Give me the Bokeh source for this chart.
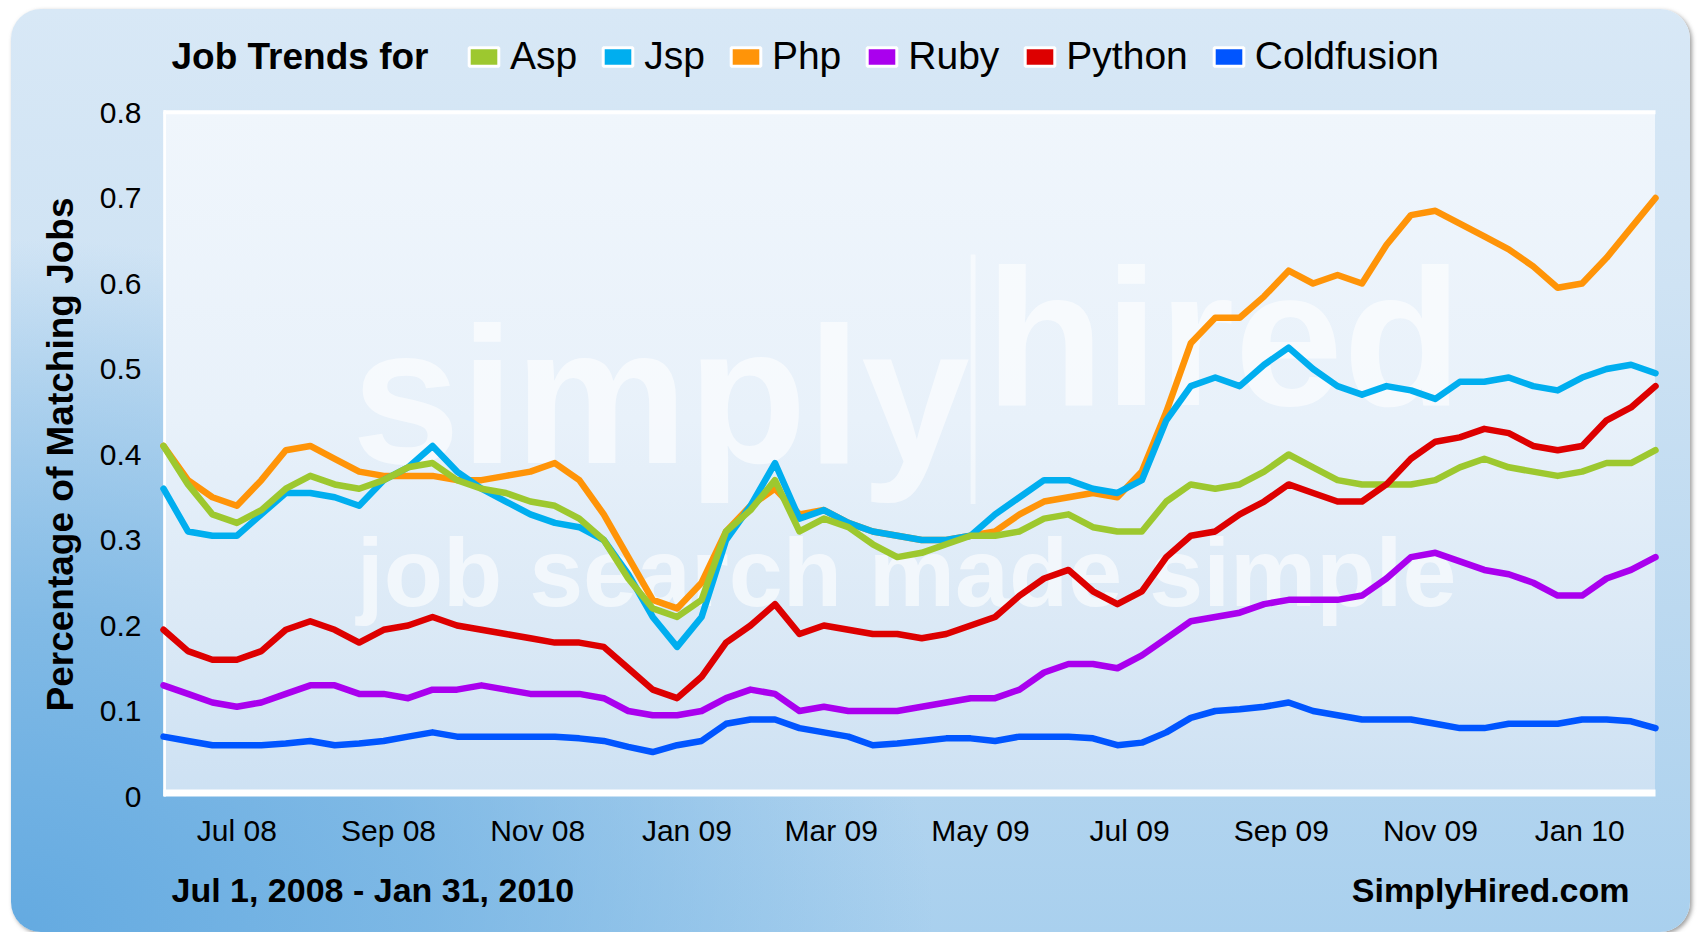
import pandas as pd
from bokeh.plotting import figure
from bokeh.models import (ColumnDataSource, Range1d, FixedTicker, DatetimeTickFormatter,
                          Legend, LegendItem, Label, BoxAnnotation)
from bokeh.embed import file_html
from bokeh.resources import INLINE

# ---------------- data ----------------
dates = pd.date_range("2008-06-01", periods=62, freq="10D")

asp = [0.41, 0.365, 0.33, 0.32, 0.335, 0.36, 0.375, 0.365, 0.36, 0.37,
       0.385, 0.39, 0.37, 0.36, 0.355, 0.345, 0.34, 0.325, 0.30, 0.255,
       0.22, 0.21, 0.23, 0.31, 0.335, 0.37, 0.31, 0.325, 0.315, 0.295,
       0.28, 0.285, 0.295, 0.305, 0.305, 0.31, 0.325, 0.33, 0.315, 0.31,
       0.31, 0.345, 0.365, 0.36, 0.365, 0.38, 0.40, 0.385, 0.37, 0.365,
       0.365, 0.365, 0.37, 0.385, 0.395, 0.385, 0.38, 0.375, 0.38, 0.39,
       0.39, 0.405]
jsp = [0.36, 0.31, 0.305, 0.305, 0.33, 0.355, 0.355, 0.35, 0.34, 0.37,
       0.385, 0.41, 0.38, 0.36, 0.345, 0.33, 0.32, 0.315, 0.30, 0.26,
       0.21, 0.175, 0.21, 0.30, 0.34, 0.39, 0.325, 0.335, 0.32, 0.31,
       0.305, 0.30, 0.30, 0.305, 0.33, 0.35, 0.37, 0.37, 0.36, 0.355,
       0.37, 0.44, 0.48, 0.49, 0.48, 0.505, 0.525, 0.50, 0.48, 0.47,
       0.48, 0.475, 0.465, 0.485, 0.485, 0.49, 0.48, 0.475, 0.49, 0.50,
       0.505, 0.495]
php = [0.41, 0.37, 0.35, 0.34, 0.37, 0.405, 0.41, 0.395, 0.38, 0.375,
       0.375, 0.375, 0.37, 0.37, 0.375, 0.38, 0.39, 0.37, 0.33, 0.28,
       0.23, 0.22, 0.25, 0.31, 0.34, 0.36, 0.33, 0.335, 0.32, 0.31,
       0.305, 0.30, 0.30, 0.305, 0.31, 0.33, 0.345, 0.35, 0.355, 0.35,
       0.38, 0.45, 0.53, 0.56, 0.56, 0.585, 0.615, 0.60, 0.61, 0.60,
       0.645, 0.68, 0.685, 0.67, 0.655, 0.64, 0.62, 0.595, 0.60, 0.63,
       0.665, 0.70]
ruby = [0.13, 0.12, 0.11, 0.105, 0.11, 0.12, 0.13, 0.13, 0.12, 0.12,
        0.115, 0.125, 0.125, 0.13, 0.125, 0.12, 0.12, 0.12, 0.115, 0.10,
        0.095, 0.095, 0.10, 0.115, 0.125, 0.12, 0.10, 0.105, 0.10, 0.10,
        0.10, 0.105, 0.11, 0.115, 0.115, 0.125, 0.145, 0.155, 0.155, 0.15,
        0.165, 0.185, 0.205, 0.21, 0.215, 0.225, 0.23, 0.23, 0.23, 0.235,
        0.255, 0.28, 0.285, 0.275, 0.265, 0.26, 0.25, 0.235, 0.235, 0.255,
        0.265, 0.28]
python = [0.195, 0.17, 0.16, 0.16, 0.17, 0.195, 0.205, 0.195, 0.18, 0.195,
          0.20, 0.21, 0.20, 0.195, 0.19, 0.185, 0.18, 0.18, 0.175, 0.15,
          0.125, 0.115, 0.14, 0.18, 0.20, 0.225, 0.19, 0.20, 0.195, 0.19,
          0.19, 0.185, 0.19, 0.20, 0.21, 0.235, 0.255, 0.265, 0.24, 0.225,
          0.24, 0.28, 0.305, 0.31, 0.33, 0.345, 0.365, 0.355, 0.345, 0.345,
          0.365, 0.395, 0.415, 0.42, 0.43, 0.425, 0.41, 0.405, 0.41, 0.44,
          0.455, 0.48]
coldfusion = [0.07, 0.065, 0.06, 0.06, 0.06, 0.062, 0.065, 0.06, 0.062, 0.065,
              0.07, 0.075, 0.07, 0.07, 0.07, 0.07, 0.07, 0.068, 0.065, 0.058,
              0.052, 0.06, 0.065, 0.085, 0.09, 0.09, 0.08, 0.075, 0.07, 0.06,
              0.062, 0.065, 0.068, 0.068, 0.065, 0.07, 0.07, 0.07, 0.068, 0.06,
              0.063, 0.075, 0.092, 0.10, 0.102, 0.105, 0.11, 0.10, 0.095, 0.09,
              0.09, 0.09, 0.085, 0.08, 0.08, 0.085, 0.085, 0.085, 0.09, 0.09,
              0.088, 0.08]

series_names = ["Asp", "Jsp", "Php", "Ruby", "Python", "Coldfusion"]
series_colors = ["#9DC82F", "#00AEEF", "#FF9408", "#AA00EE", "#DD0000", "#0055FF"]
draw_order = ["Php", "Jsp", "Asp", "Ruby", "Python", "Coldfusion"]

x_tick_dates = ["2008-07-01", "2008-09-01", "2008-11-01", "2009-01-01", "2009-03-01",
                "2009-05-01", "2009-07-01", "2009-09-01", "2009-11-01", "2010-01-01"]
y_ticks = [0, 0.1, 0.2, 0.3, 0.4, 0.5, 0.6, 0.7, 0.8]
y_tick_labels = ["0", "0.1", "0.2", "0.3", "0.4", "0.5", "0.6", "0.7", "0.8"]

title_text = "Job Trends for"
range_text = "Jul 1, 2008 - Jan 31, 2010"
brand_text = "SimplyHired.com"
y_label = "Percentage of Matching Jobs"
x_start, x_end = "2008-06-01", "2010-02-01"
y_start, y_end = 0.0, 0.8

# ---------------- layout (page pixels) ----------------
FONT = "Liberation Sans"
OX, OY = 11, 9                 # panel offset on the page
W, H = 1679, 923               # panel size
PL, PR, PT, PB = 163, 1655, 112, 796   # plot area on the page


def ms(d):
    return pd.Timestamp(d).timestamp() * 1000.0


# the whole panel is the frame; extend ranges so the plot area lands at PL..PR / PT..PB
xs = (ms(x_end) - ms(x_start)) / (PR - PL)
ys = (y_end - y_start) / (PB - PT)
x_lo = ms(x_start) - (PL - OX) * xs
x_hi = ms(x_end) + (OX + W - PR) * xs
y_lo = y_start - (OY + H - PB) * ys
y_hi = y_end + (PT - OY) * ys


def sx(page_x):
    return page_x - OX


def sy(page_y):
    return OY + H - page_y


src = ColumnDataSource(dict(date=dates, Asp=asp, Jsp=jsp, Php=php, Ruby=ruby,
                            Python=python, Coldfusion=coldfusion))

p = figure(width=W, height=H, output_backend="svg", toolbar_location=None,
           x_axis_type="datetime",
           x_range=Range1d(x_lo, x_hi), y_range=Range1d(y_lo, y_hi), min_border=0)

p.border_fill_alpha = 0
p.background_fill_alpha = 0
p.outline_line_color = None
p.grid.visible = False

FL, FT, FW, FH = PL - OX, PT - OY, PR - PL, PB - PT
panel_bg = ("linear-gradient(180deg, #f0f6fc 0%, #e8f1fa 45%, #dbe9f6 75%, #cde1f3 100%) "
            f"{FL}px {FT}px / {FW}px {FH}px no-repeat, "
            "radial-gradient(ellipse 55% 75% at 0% 100%, rgba(96,168,224,0.95) 0%, rgba(110,176,226,0.75) 45%, rgba(140,195,235,0) 100%), "
            "linear-gradient(180deg, #d8e8f6 0%, #cfe3f4 30%, #bcd9f0 65%, #a9d0ee 100%)")
p.styles = {"background": panel_bg, "border-radius": "30px",
            "margin-left": f"{OX}px", "margin-top": f"{OY}px",
            "box-shadow": "2px 2px 4px rgba(90,90,90,0.6)"}

# white plot-area edges
edge = dict(fill_color="white", fill_alpha=1, line_alpha=0, level="underlay")
p.add_layout(BoxAnnotation(left=ms(x_start), right=ms(x_end), bottom=0.798, top=0.8025, **edge))
p.add_layout(BoxAnnotation(left=ms(x_start), right=ms("2008-06-02"), bottom=0, top=0.8025, **edge))
p.add_layout(BoxAnnotation(left=ms(x_start), right=ms(x_end), bottom=0, top=0.0082, **edge))

# watermark
wm = dict(text_color="white", text_alpha=0.6, text_font=FONT, text_font_style="bold",
          level="underlay", text_baseline="alphabetic")
p.add_layout(Label(x=ms("2008-08-17"), y=0.47, text="simply", text_font_size="195px", **wm))
p.add_layout(Label(x=ms("2009-05-03"), y=0.537, text="hired", text_font_size="195px", **wm))
p.add_layout(Label(x=ms("2008-08-19"), y=0.262, text="job search made simple",
                   text_font_size="97px", **wm))
p.add_layout(BoxAnnotation(left=ms("2009-04-27"), right=ms("2009-04-29"), bottom=0.342, top=0.634,
                           fill_color="white", fill_alpha=0.5, line_alpha=0, level="underlay"))

# lines
color_of = dict(zip(series_names, series_colors))
for name in draw_order:
    p.line(x="date", y=name, source=src, line_color=color_of[name], line_width=6.5,
           line_join="round", line_cap="round")

# legend with box swatches (swatch renderers hold no visible data)
nan = float("nan")
items = []
for name, c in zip(series_names, series_colors):
    r = p.quad(left=[nan], right=[nan], top=[nan], bottom=[nan],
               fill_color=c, line_color="white", line_width=3)
    items.append(LegendItem(label=name, renderers=[r]))
legend = Legend(items=items, orientation="horizontal", location=(sx(465), sy(78)),
                glyph_width=37, glyph_height=23, label_standoff=8, spacing=22,
                label_text_font=FONT, label_text_font_size="39px", label_text_color="black",
                background_fill_alpha=0, border_line_alpha=0, padding=0, margin=0)
p.add_layout(legend)

# texts
txt = dict(x_units="screen", y_units="screen", text_font=FONT, text_font_style="bold",
           text_baseline="middle", text_color="black")
p.add_layout(Label(x=sx(171), y=sy(56), text=title_text, text_font_size="37px", **txt))
p.add_layout(Label(x=sx(171), y=sy(889), text=range_text, text_font_size="34px", **txt))
p.add_layout(Label(x=sx(1629), y=sy(889), text=brand_text, text_font_size="34px",
                   text_align="right", **txt))

# axes pinned to the plot area
xa = p.xaxis[0]
xa.fixed_location = y_start
xa.bounds = (ms(x_start), ms(x_end))
xa.ticker = FixedTicker(ticks=[ms(d) for d in x_tick_dates])
fmt = "%b %y"
xa.formatter = DatetimeTickFormatter(milliseconds=fmt, seconds=fmt, minsec=fmt, minutes=fmt,
                                     hourmin=fmt, hours=fmt, days=fmt, months=fmt, years=fmt)
ya = p.yaxis[0]
ya.fixed_location = ms(x_start)
ya.bounds = (y_start, y_end)
ya.ticker = FixedTicker(ticks=y_ticks)
ya.major_label_overrides = dict(zip(y_ticks, y_tick_labels))
ya.axis_label = y_label
ya.axis_label_text_font = FONT
ya.axis_label_text_font_size = "37px"
ya.axis_label_text_font_style = "bold"
ya.axis_label_text_color = "black"
ya.axis_label_standoff = 16

for ax in (xa, ya):
    ax.axis_line_color = None
    ax.major_tick_line_color = None
    ax.minor_tick_line_color = None
    ax.major_tick_out = 0
    ax.major_tick_in = 0
    ax.major_label_text_font = FONT
    ax.major_label_text_font_size = "30px"
    ax.major_label_text_color = "black"
xa.major_label_standoff = 17
ya.major_label_standoff = 22

open("out.html", "w").write(file_html(p, INLINE))
